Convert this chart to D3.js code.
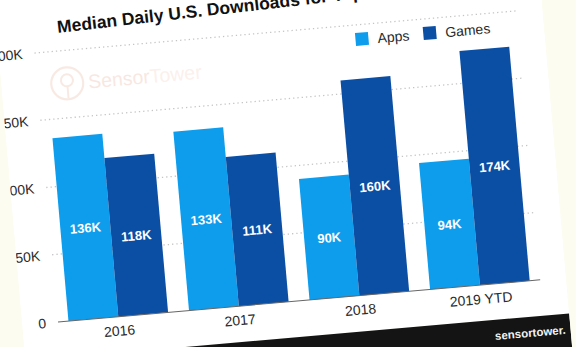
<!DOCTYPE html>
<html>
<head>
<meta charset="utf-8">
<script src="https://cdn.jsdelivr.net/npm/d3@7"></script>
<style>
  html, body { margin: 0; padding: 0; background: #fdfcf1; }
  svg { display: block; font-family: "Liberation Sans", Arial, sans-serif; }
</style>
</head>
<body>
<div id="chart"></div>
<script>
// values in thousands of downloads per day
var years = ["2016", "2017", "2018", "2019 YTD"];
var seriesNames = ["Apps", "Games"];
var appsValues = [136, 133, 90, 94];
var gamesValues = [118, 111, 160, 174];
var yTicks = [0, 50, 100, 150, 200];
var yTickLabels = ["0", "50K", "100K", "150K", "200K"];

var width = 576, height = 347;
var colors = { Apps: "#0e9cec", Games: "#0b4fa4" };

var svg = d3.select("#chart").append("svg")
    .attr("width", width)
    .attr("height", height);

svg.append("rect")
    .attr("width", width).attr("height", height)
    .attr("fill", "#fdfcf1");

// the chart is photographed slightly tilted
var g = svg.append("g")
    .attr("transform", "translate(58,322) rotate(-5)");

var plotW = 484;
var paperLeft = -36, paperRight = 510;

// the printed chart is cropped on the left, so clip everything to the paper
g.append("clipPath")
    .attr("id", "paper")
  .append("rect")
    .attr("x", paperLeft).attr("y", -360)
    .attr("width", paperRight - paperLeft).attr("height", 460);

var paper = g.append("g").attr("clip-path", "url(#paper)");

paper.append("rect")
    .attr("x", paperLeft).attr("y", -360)
    .attr("width", paperRight - paperLeft).attr("height", 396)
    .attr("fill", "#ffffff");

// footer band
paper.append("rect")
    .attr("x", paperLeft).attr("y", 36)
    .attr("width", paperRight - paperLeft).attr("height", 60)
    .attr("fill", "#141414");

paper.append("text")
    .attr("x", 505).attr("y", 56)
    .attr("text-anchor", "end")
    .style("font-size", "11.5px")
    .style("font-weight", "bold")
    .style("fill", "#f2f2f2")
    .text("sensortower.");

var x0 = d3.scaleBand()
    .domain(years)
    .range([0, plotW])
    .padding(0);

var x1 = d3.scaleBand()
    .domain(seriesNames)
    .range([10.5, x0.bandwidth() - 10.5])
    .padding(0);

var y = d3.scaleLinear()
    .domain([0, 200])
    .range([0, -270]);

// watermark
var wm = paper.append("g").attr("opacity", 0.45);
wm.append("circle")
    .attr("cx", 30).attr("cy", -237).attr("r", 16)
    .attr("fill", "none")
    .attr("stroke", "#f0cfc2")
    .attr("stroke-width", 2.2);
wm.append("circle")
    .attr("cx", 30).attr("cy", -240).attr("r", 6)
    .attr("fill", "none")
    .attr("stroke", "#f0cfc2")
    .attr("stroke-width", 2);
wm.append("line")
    .attr("x1", 30).attr("x2", 30)
    .attr("y1", -234).attr("y2", -222)
    .attr("stroke", "#f0cfc2")
    .attr("stroke-width", 2);
wm.append("text")
    .attr("x", 51).attr("y", -230)
    .style("font-size", "19.5px")
    .style("fill", "#efcbbd")
    .text("Sensor")
  .append("tspan")
    .style("fill", "#f5ddd3")
    .text("Tower");

// gridlines
paper.selectAll(".grid")
    .data(yTicks.slice(1))
  .enter()
    .append("line")
    .attr("class", "grid")
    .attr("x1", 0).attr("x2", plotW)
    .attr("y1", function(d) { return y(d); })
    .attr("y2", function(d) { return y(d); })
    .attr("stroke", "#c4c4c4")
    .attr("stroke-width", 1.3)
    .attr("stroke-dasharray", "1.3,3");

// y tick labels
paper.selectAll(".ylab")
    .data(yTicks)
  .enter()
    .append("text")
    .attr("class", "ylab")
    .attr("x", -12)
    .attr("y", function(d) { return y(d) + 5; })
    .attr("text-anchor", "end")
    .style("font-size", "14px")
    .style("fill", "#2a2a2a")
    .text(function(d, i) { return yTickLabels[i]; });

// bars
var rows = years.map(function(yr, i) {
  return { year: yr, values: [
    { name: "Apps", value: appsValues[i] },
    { name: "Games", value: gamesValues[i] }
  ]};
});

var groups = paper.selectAll(".year")
    .data(rows)
  .enter()
    .append("g")
    .attr("class", "year")
    .attr("transform", function(d) { return "translate(" + x0(d.year) + ",0)"; });

groups.selectAll("rect")
    .data(function(d) { return d.values; })
  .enter()
    .append("rect")
    .attr("x", function(d) { return x1(d.name); })
    .attr("y", function(d) { return y(d.value); })
    .attr("width", x1.bandwidth())
    .attr("height", function(d) { return -y(d.value); })
    .attr("fill", function(d) { return colors[d.name]; });

groups.selectAll(".vlab")
    .data(function(d) { return d.values; })
  .enter()
    .append("text")
    .attr("class", "vlab")
    .attr("x", function(d) { return x1(d.name) + x1.bandwidth() / 2; })
    .attr("y", function(d) { return y(d.value) / 2 + 5; })
    .attr("text-anchor", "middle")
    .style("font-size", "13px")
    .style("font-weight", "bold")
    .style("fill", "#ffffff")
    .text(function(d) { return d.value + "K"; });

// baseline
paper.append("line")
    .attr("x1", 0).attr("x2", plotW)
    .attr("y1", 0).attr("y2", 0)
    .attr("stroke", "#666")
    .attr("stroke-width", 1);

// x labels
paper.selectAll(".xlab")
    .data(years)
  .enter()
    .append("text")
    .attr("class", "xlab")
    .attr("x", function(d) { return x0(d) + x0.bandwidth() / 2; })
    .attr("y", 19)
    .attr("text-anchor", "middle")
    .style("font-size", "14px")
    .style("fill", "#2a2a2a")
    .text(function(d) { return d; });

// title (a touch steeper because of the camera angle)
paper.append("text")
    .attr("transform", "translate(25,-288) rotate(-1.5)")
    .style("font-size", "17.5px")
    .style("font-weight", "bold")
    .style("fill", "#111")
    .text("Median Daily U.S. Downloads for Top Apps and Games");

// legend
var legendPos = [321, 389];
var legend = paper.selectAll(".legend")
    .data(seriesNames)
  .enter()
    .append("g")
    .attr("class", "legend")
    .attr("transform", function(d, i) { return "translate(" + legendPos[i] + "," + (-262) + ")"; });

legend.append("rect")
    .attr("width", 13).attr("height", 13)
    .attr("fill", function(d) { return colors[d]; });

legend.append("text")
    .attr("x", 22).attr("y", 12)
    .style("font-size", "14px")
    .style("fill", "#2a2a2a")
    .text(function(d) { return d; });
</script>
</body>
</html>
